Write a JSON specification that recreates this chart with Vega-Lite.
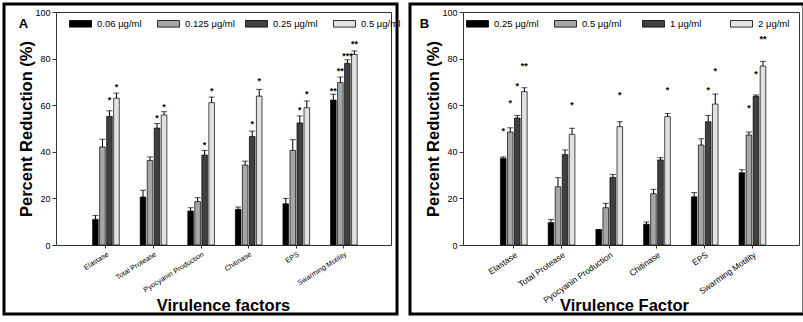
{
  "$schema": "https://vega.github.io/schema/vega-lite/v6.json",
  "padding": {"left": 2, "top": 2, "right": 2, "bottom": 2},
  "spacing": 5,
  "background": "white",
  "resolve": {"scale": {"color": "independent", "xOffset": "independent"}, "legend": {"color": "independent"}},
  "config": {
    "font": "Liberation Sans",
    "view": {"stroke": "black", "strokeWidth": 3},
    "axis": {"grid": false, "domainColor": "#333", "tickColor": "#333", "labelColor": "black", "titleColor": "black", "minExtent": 0, "maxExtent": 0},
    "legend": {"padding": 0}
  },
  "datasets": {
    "A": [
      {"factor": "Elastase", "conc": "0.06 μg/ml", "v": 11, "hi": 12.7, "sig": "", "sy": 0},
      {"factor": "Elastase", "conc": "0.125 μg/ml", "v": 42.1, "hi": 45.4, "sig": "", "sy": 0},
      {"factor": "Elastase", "conc": "0.25 μg/ml", "v": 55.2, "hi": 57.6, "sig": "*", "sy": 63},
      {"factor": "Elastase", "conc": "0.5 μg/ml", "v": 63, "hi": 65.2, "sig": "*", "sy": 68.5},
      {"factor": "Total Protease", "conc": "0.06 μg/ml", "v": 20.6, "hi": 23.5, "sig": "", "sy": 0},
      {"factor": "Total Protease", "conc": "0.125 μg/ml", "v": 36.3, "hi": 37.8, "sig": "", "sy": 0},
      {"factor": "Total Protease", "conc": "0.25 μg/ml", "v": 50.2, "hi": 52.1, "sig": "*", "sy": 55.5},
      {"factor": "Total Protease", "conc": "0.5 μg/ml", "v": 55.8, "hi": 57.2, "sig": "*", "sy": 60.1},
      {"factor": "Pyocyanin Production", "conc": "0.06 μg/ml", "v": 14.6, "hi": 16, "sig": "", "sy": 0},
      {"factor": "Pyocyanin Production", "conc": "0.125 μg/ml", "v": 18.6, "hi": 20.3, "sig": "", "sy": 0},
      {"factor": "Pyocyanin Production", "conc": "0.25 μg/ml", "v": 38.6, "hi": 40.6, "sig": "*", "sy": 43.9},
      {"factor": "Pyocyanin Production", "conc": "0.5 μg/ml", "v": 61.1, "hi": 63.5, "sig": "*", "sy": 67},
      {"factor": "Chitinase", "conc": "0.06 μg/ml", "v": 15.3, "hi": 16.3, "sig": "", "sy": 0},
      {"factor": "Chitinase", "conc": "0.125 μg/ml", "v": 34.3, "hi": 36, "sig": "", "sy": 0},
      {"factor": "Chitinase", "conc": "0.25 μg/ml", "v": 46.6, "hi": 48.9, "sig": "*", "sy": 52.8},
      {"factor": "Chitinase", "conc": "0.5 μg/ml", "v": 63.9, "hi": 66.8, "sig": "*", "sy": 71.1},
      {"factor": "EPS", "conc": "0.06 μg/ml", "v": 17.7, "hi": 20, "sig": "", "sy": 0},
      {"factor": "EPS", "conc": "0.125 μg/ml", "v": 40.6, "hi": 45.2, "sig": "", "sy": 0},
      {"factor": "EPS", "conc": "0.25 μg/ml", "v": 52.4, "hi": 55.4, "sig": "*", "sy": 58.9},
      {"factor": "EPS", "conc": "0.5 μg/ml", "v": 58.9, "hi": 61.8, "sig": "*", "sy": 65.7},
      {"factor": "Swarming Motility", "conc": "0.06 μg/ml", "v": 62.2, "hi": 64.7, "sig": "**", "sy": 67.1},
      {"factor": "Swarming Motility", "conc": "0.125 μg/ml", "v": 69.7, "hi": 72.1, "sig": "**", "sy": 75.4},
      {"factor": "Swarming Motility", "conc": "0.25 μg/ml", "v": 78, "hi": 79.5, "sig": "***", "sy": 81.8},
      {"factor": "Swarming Motility", "conc": "0.5 μg/ml", "v": 81.8, "hi": 83.3, "sig": "**", "sy": 87.1}
    ],
    "B": [
      {"factor": "Elastase", "conc": "0.25 μg/ml", "v": 37.2, "hi": 37.8, "sig": "*", "sy": 49.6},
      {"factor": "Elastase", "conc": "0.5 μg/ml", "v": 48.5, "hi": 50.3, "sig": "*", "sy": 62},
      {"factor": "Elastase", "conc": "1 μg/ml", "v": 54.5, "hi": 55.6, "sig": "*", "sy": 69},
      {"factor": "Elastase", "conc": "2 μg/ml", "v": 65.8, "hi": 67.5, "sig": "**", "sy": 77.6},
      {"factor": "Total Protease", "conc": "0.25 μg/ml", "v": 9.6, "hi": 10.9, "sig": "", "sy": 0},
      {"factor": "Total Protease", "conc": "0.5 μg/ml", "v": 25, "hi": 28.9, "sig": "", "sy": 0},
      {"factor": "Total Protease", "conc": "1 μg/ml", "v": 38.8, "hi": 40.8, "sig": "", "sy": 0},
      {"factor": "Total Protease", "conc": "2 μg/ml", "v": 47.5, "hi": 50.1, "sig": "*", "sy": 61},
      {"factor": "Pyocyanin Production", "conc": "0.25 μg/ml", "v": 6.6, "hi": 6.6, "sig": "", "sy": 0},
      {"factor": "Pyocyanin Production", "conc": "0.5 μg/ml", "v": 16, "hi": 17.9, "sig": "", "sy": 0},
      {"factor": "Pyocyanin Production", "conc": "1 μg/ml", "v": 29, "hi": 30.3, "sig": "", "sy": 0},
      {"factor": "Pyocyanin Production", "conc": "2 μg/ml", "v": 50.8, "hi": 52.9, "sig": "*", "sy": 65.1},
      {"factor": "Chitinase", "conc": "0.25 μg/ml", "v": 8.9, "hi": 9.9, "sig": "", "sy": 0},
      {"factor": "Chitinase", "conc": "0.5 μg/ml", "v": 22, "hi": 23.9, "sig": "", "sy": 0},
      {"factor": "Chitinase", "conc": "1 μg/ml", "v": 36.5, "hi": 37.5, "sig": "", "sy": 0},
      {"factor": "Chitinase", "conc": "2 μg/ml", "v": 55.1, "hi": 56.4, "sig": "*", "sy": 67.5},
      {"factor": "EPS", "conc": "0.25 μg/ml", "v": 20.7, "hi": 22.5, "sig": "", "sy": 0},
      {"factor": "EPS", "conc": "0.5 μg/ml", "v": 42.9, "hi": 45.6, "sig": "", "sy": 0},
      {"factor": "EPS", "conc": "1 μg/ml", "v": 52.9, "hi": 55.6, "sig": "*", "sy": 67.5},
      {"factor": "EPS", "conc": "2 μg/ml", "v": 60.5, "hi": 64.8, "sig": "*", "sy": 75.5},
      {"factor": "Swarming Motility", "conc": "0.25 μg/ml", "v": 31, "hi": 32.3, "sig": "", "sy": 0},
      {"factor": "Swarming Motility", "conc": "0.5 μg/ml", "v": 47.2, "hi": 48.5, "sig": "*", "sy": 59.7},
      {"factor": "Swarming Motility", "conc": "1 μg/ml", "v": 63.8, "hi": 64.4, "sig": "*", "sy": 74.4},
      {"factor": "Swarming Motility", "conc": "2 μg/ml", "v": 76.8, "hi": 78.8, "sig": "**", "sy": 89.3}
    ]
  },
  "hconcat": [
    {
      "width": 393,
      "height": 310,
      "data": {"name": "A"},
      "resolve": {"axis": {"x": "independent", "y": "independent"}},
      "layer": [
        {
          "mark": {"type": "bar", "stroke": "black", "strokeWidth": 0.7},
          "encoding": {
            "x": {"field": "factor", "type": "nominal", "sort": ["Elastase", "Total Protease", "Pyocyanin Production", "Chitinase", "EPS", "Swarming Motility"],
              "scale": {"range": [52, 387], "paddingInner": 0.44, "paddingOuter": 0.74, "align": 0.52},
              "axis": {"orient": "bottom", "offset": -69, "labelAngle": -32, "labelFontSize": 7.2, "labelPadding": 2, "tickSize": 3, "title": "Virulence factors", "titleFontSize": 16.5, "titleFontWeight": "bold", "titleX": 219, "titleY": 65, "titleBaseline": "alphabetic", "titleAlign": "center"}},
            "xOffset": {"field": "conc", "type": "nominal", "sort": ["0.06 μg/ml", "0.125 μg/ml", "0.25 μg/ml", "0.5 μg/ml"], "scale": {"domain": ["0.06 μg/ml", "0.125 μg/ml", "0.25 μg/ml", "0.5 μg/ml"], "paddingInner": 0.2, "paddingOuter": 0}},
            "y": {"field": "v", "type": "quantitative", "scale": {"domain": [0, 100], "range": [241, 8], "nice": false, "zero": true},
              "axis": {"orient": "left", "offset": -52, "values": [0, 20, 40, 60, 80, 100], "labelFontSize": 9, "tickSize": 4, "labelPadding": 2, "title": "Percent Reduction (%)", "titleFontSize": 16.5, "titleFontWeight": "bold", "titleAngle": -90, "titleX": -25, "titleY": 124.5, "titleBaseline": "alphabetic", "titleAlign": "center"}},
            "color": {"field": "conc", "type": "nominal", "title": null,
              "scale": {"domain": ["0.06 μg/ml", "0.125 μg/ml", "0.25 μg/ml", "0.5 μg/ml"], "range": ["#000000", "#a6a6a6", "#404040", "#e2e2e2"]},
              "legend": {"orient": "none", "legendX": 65, "legendY": 8, "direction": "horizontal", "columns": 4, "gridAlign": "all", "columnPadding": 8, "symbolType": "M-1,-0.3H1V0.3H-1Z", "symbolSize": 484, "symbolStrokeColor": "black", "symbolStrokeWidth": 0.8, "labelFontSize": 9.5, "labelOffset": 5}}
          }
        },
        {
          "mark": {"type": "rule", "color": "black", "strokeWidth": 1},
          "encoding": {
            "x": {"field": "factor", "type": "nominal", "sort": ["Elastase", "Total Protease", "Pyocyanin Production", "Chitinase", "EPS", "Swarming Motility"], "axis": null},
            "xOffset": {"field": "conc", "type": "nominal", "sort": ["0.06 μg/ml", "0.125 μg/ml", "0.25 μg/ml", "0.5 μg/ml"]},
            "y": {"field": "v", "type": "quantitative", "axis": {"orient": "right", "offset": -6, "labels": false, "ticks": false, "title": null}},
            "y2": {"field": "hi"}
          }
        },
        {
          "mark": {"type": "tick", "color": "black", "size": 6, "thickness": 1, "orient": "horizontal"},
          "encoding": {
            "x": {"field": "factor", "type": "nominal", "sort": ["Elastase", "Total Protease", "Pyocyanin Production", "Chitinase", "EPS", "Swarming Motility"],
              "axis": {"orient": "top", "offset": -8, "labels": false, "ticks": false, "title": "A", "titleFontSize": 13, "titleFontWeight": "bold", "titleX": 19, "titleY": 11, "titleBaseline": "middle", "titleAlign": "center", "titleAngle": 0}},
            "xOffset": {"field": "conc", "type": "nominal", "sort": ["0.06 μg/ml", "0.125 μg/ml", "0.25 μg/ml", "0.5 μg/ml"]},
            "y": {"field": "hi", "type": "quantitative", "axis": null}
          }
        },
        {
          "transform": [{"filter": "datum.sig != ''"}],
          "mark": {"type": "text", "fontSize": 9, "fontWeight": "bold", "baseline": "middle", "dy": 2, "color": "black"},
          "encoding": {
            "x": {"field": "factor", "type": "nominal", "sort": ["Elastase", "Total Protease", "Pyocyanin Production", "Chitinase", "EPS", "Swarming Motility"], "axis": null},
            "xOffset": {"field": "conc", "type": "nominal", "sort": ["0.06 μg/ml", "0.125 μg/ml", "0.25 μg/ml", "0.5 μg/ml"]},
            "y": {"field": "sy", "type": "quantitative", "axis": null},
            "text": {"field": "sig"}
          }
        }
      ]
    },
    {
      "width": 394,
      "height": 310,
      "data": {"name": "B"},
      "resolve": {"axis": {"x": "independent", "y": "independent"}},
      "layer": [
        {
          "mark": {"type": "bar", "stroke": "black", "strokeWidth": 0.7},
          "encoding": {
            "x": {"field": "factor", "type": "nominal", "sort": ["Elastase", "Total Protease", "Pyocyanin Production", "Chitinase", "EPS", "Swarming Motility"],
              "scale": {"range": [53, 389], "paddingInner": 0.44, "paddingOuter": 0.74, "align": 0.53},
              "axis": {"orient": "bottom", "offset": -69, "labelAngle": -35, "labelFontSize": 8.5, "labelPadding": 2, "tickSize": 3, "title": "Virulence Factor", "titleFontSize": 16.5, "titleFontWeight": "bold", "titleX": 214, "titleY": 65, "titleBaseline": "alphabetic", "titleAlign": "center"}},
            "xOffset": {"field": "conc", "type": "nominal", "sort": ["0.25 μg/ml", "0.5 μg/ml", "1 μg/ml", "2 μg/ml"], "scale": {"domain": ["0.25 μg/ml", "0.5 μg/ml", "1 μg/ml", "2 μg/ml"], "paddingInner": 0.2, "paddingOuter": 0}},
            "y": {"field": "v", "type": "quantitative", "scale": {"domain": [0, 100], "range": [241, 8], "nice": false, "zero": true},
              "axis": {"orient": "left", "offset": -53, "values": [0, 20, 40, 60, 80, 100], "labelFontSize": 9, "tickSize": 4, "labelPadding": 2, "title": "Percent Reduction (%)", "titleFontSize": 16.5, "titleFontWeight": "bold", "titleAngle": -90, "titleX": -25, "titleY": 124.5, "titleBaseline": "alphabetic", "titleAlign": "center"}},
            "color": {"field": "conc", "type": "nominal", "title": null,
              "scale": {"domain": ["0.25 μg/ml", "0.5 μg/ml", "1 μg/ml", "2 μg/ml"], "range": ["#000000", "#a6a6a6", "#404040", "#e2e2e2"]},
              "legend": {"orient": "none", "legendX": 56, "legendY": 8, "direction": "horizontal", "columns": 4, "gridAlign": "all", "columnPadding": 13, "symbolType": "M-1,-0.3H1V0.3H-1Z", "symbolSize": 484, "symbolStrokeColor": "black", "symbolStrokeWidth": 0.8, "labelFontSize": 9.5, "labelOffset": 5}}
          }
        },
        {
          "mark": {"type": "rule", "color": "black", "strokeWidth": 1},
          "encoding": {
            "x": {"field": "factor", "type": "nominal", "sort": ["Elastase", "Total Protease", "Pyocyanin Production", "Chitinase", "EPS", "Swarming Motility"], "axis": null},
            "xOffset": {"field": "conc", "type": "nominal", "sort": ["0.25 μg/ml", "0.5 μg/ml", "1 μg/ml", "2 μg/ml"]},
            "y": {"field": "v", "type": "quantitative", "axis": {"orient": "right", "offset": -5, "labels": false, "ticks": false, "title": null}},
            "y2": {"field": "hi"}
          }
        },
        {
          "mark": {"type": "tick", "color": "black", "size": 6, "thickness": 1, "orient": "horizontal"},
          "encoding": {
            "x": {"field": "factor", "type": "nominal", "sort": ["Elastase", "Total Protease", "Pyocyanin Production", "Chitinase", "EPS", "Swarming Motility"],
              "axis": {"orient": "top", "offset": -8, "labels": false, "ticks": false, "title": "B", "titleFontSize": 13, "titleFontWeight": "bold", "titleX": 14, "titleY": 11, "titleBaseline": "middle", "titleAlign": "center", "titleAngle": 0}},
            "xOffset": {"field": "conc", "type": "nominal", "sort": ["0.25 μg/ml", "0.5 μg/ml", "1 μg/ml", "2 μg/ml"]},
            "y": {"field": "hi", "type": "quantitative", "axis": null}
          }
        },
        {
          "transform": [{"filter": "datum.sig != ''"}],
          "mark": {"type": "text", "fontSize": 9, "fontWeight": "bold", "baseline": "middle", "dy": 2, "color": "black"},
          "encoding": {
            "x": {"field": "factor", "type": "nominal", "sort": ["Elastase", "Total Protease", "Pyocyanin Production", "Chitinase", "EPS", "Swarming Motility"], "axis": null},
            "xOffset": {"field": "conc", "type": "nominal", "sort": ["0.25 μg/ml", "0.5 μg/ml", "1 μg/ml", "2 μg/ml"]},
            "y": {"field": "sy", "type": "quantitative", "axis": null},
            "text": {"field": "sig"}
          }
        }
      ]
    }
  ]
}
